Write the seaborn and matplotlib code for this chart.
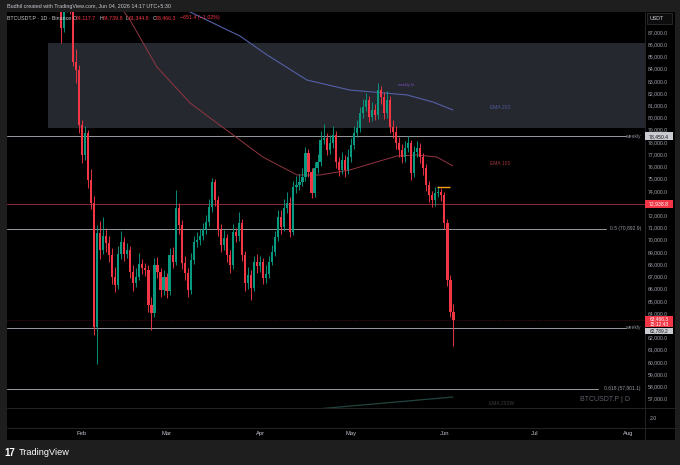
import numpy as np
import pandas as pd
import matplotlib
matplotlib.use("Agg")
import matplotlib.pyplot as plt
import matplotlib.transforms as mtransforms
from matplotlib.patches import Rectangle
from matplotlib.lines import Line2D
import seaborn as sns

# ---------------- data ----------------
dates = pd.date_range("2026-01-20", "2026-06-04", freq="D")

opens = [89500, 89800, 89300, 90100, 89600, 89200, 87300, 88900, 89500, 89000,
         84550, 83900, 79400, 76930, 78730, 74890, 73010, 62860, 70550, 69160,
         70310, 69740, 68750, 66950, 66300, 68830, 69820, 68830, 69160, 67360,
         66460, 66950, 68020, 67690, 67520, 64660, 64000, 67930, 67360, 65890,
         66950, 65810, 68750, 68180, 72600, 71210, 68100, 67280, 65890, 68340,
         69820, 69980, 70310, 70880, 71450, 72680, 74730, 73250, 70800, 69570,
         70150, 68750, 67930, 70640, 70310, 71370, 68750, 66460, 67120, 66050,
         68180, 67850, 68180, 66870, 67200, 68180, 69000, 70230, 71860, 71040,
         72600, 73010, 70640, 74320, 74480, 74730, 75130, 77100, 75540, 73830,
         75870, 76360, 78160, 78330, 77340, 77920, 78570, 76360, 75710, 76530,
         75710, 76770, 77750, 78740, 79140, 80370, 80860, 81440, 80040, 80620,
         80210, 82250, 81680, 80370, 81440, 79230, 78820, 77920, 77340, 76770,
         77510, 77920, 75460, 77180, 77510, 76770, 75870, 74480, 73660, 73250,
         73830, 73910, 73660, 71370, 66710, 64117.7]
closes = [89800, 89300, 90100, 89600, 89200, 87300, 88900, 89500, 89000, 84550,
          83900, 79400, 76930, 78730, 74890, 73010, 62860, 70550, 69160, 70310,
          69740, 68750, 66950, 66300, 68830, 69820, 68830, 69160, 67360, 66460,
          66950, 68020, 67690, 67520, 64660, 64000, 67930, 67360, 65890, 66950,
          65810, 68750, 68180, 72600, 71210, 68100, 67280, 65890, 68340, 69820,
          69980, 70310, 70880, 71450, 72680, 74730, 73250, 70800, 69570, 70150,
          68750, 67930, 70640, 70310, 71370, 68750, 66460, 67120, 66050, 68180,
          67850, 68180, 66870, 67200, 68180, 69000, 70230, 71860, 71040, 72600,
          73010, 70640, 74320, 74480, 74730, 75130, 77100, 75540, 73830, 75870,
          76360, 78160, 78330, 77340, 77920, 78570, 76360, 75710, 76530, 75710,
          76770, 77750, 78740, 79140, 80370, 80860, 81440, 80040, 80620, 80210,
          82250, 81680, 80370, 81440, 79230, 78820, 77920, 77340, 76770, 77510,
          77920, 75460, 77180, 77510, 76770, 75870, 74480, 73660, 73250, 73830,
          73910, 73660, 71370, 66710, 64117.7, 63466.3]
highs = [90300, 90200, 90600, 90400, 89900, 89500, 89300, 90000, 89800, 89200,
         85600, 84300, 79800, 79300, 79000, 75800, 73600, 71200, 71500, 71900,
         70900, 70300, 69300, 67800, 69500, 70700, 70200, 69700, 69500, 67900,
         67700, 68900, 68400, 68100, 67900, 65300, 68500, 68600, 67700, 67500,
         67300, 69300, 69400, 74100, 73000, 71600, 68700, 67700, 68900, 70300,
         70600, 70900, 71400, 72000, 73300, 75050, 75000, 73600, 71300, 70800,
         70500, 69200, 71300, 71000, 72300, 71700, 69100, 67800, 67500, 68700,
         68800, 68700, 68500, 67900, 68700, 69600, 70700, 72400, 72400, 73300,
         73900, 73500, 74800, 75200, 75400, 75900, 77600, 77400, 75900, 76400,
         77000, 78900, 79500, 78700, 78600, 79300, 78900, 76800, 77200, 76900,
         77400, 78300, 79300, 79800, 80900, 81500, 82000, 81800, 81300, 81100,
         82800, 82600, 82100, 82200, 81800, 79800, 79300, 78400, 77800, 78100,
         78500, 78200, 77700, 78100, 77900, 77100, 76200, 74800, 74000, 74300,
         74400, 74200, 73900, 71700, 67100, 64739.8]
lows = [89100, 88900, 89000, 89200, 88700, 86100, 87000, 88600, 88500, 84200,
        82800, 78700, 76300, 76500, 74200, 72500, 62200, 59830, 68400, 68800,
        69000, 68200, 66400, 65700, 66000, 68400, 68300, 68500, 66900, 65800,
        66100, 66700, 67200, 67000, 64100, 62600, 63700, 66900, 65300, 65500,
        65200, 65500, 67700, 67900, 70500, 67600, 66700, 65300, 65600, 68000,
        69400, 69600, 70000, 70500, 71100, 72300, 72800, 70300, 69000, 69200,
        68200, 67300, 67600, 69800, 69900, 68300, 65800, 66000, 65070, 65800,
        67300, 67400, 66400, 66500, 66900, 67900, 68700, 69900, 70500, 70700,
        72200, 70200, 70400, 73800, 74100, 74400, 74800, 75100, 73400, 73500,
        75500, 76000, 77800, 76900, 77000, 77500, 75900, 75200, 75400, 75100,
        75400, 76400, 77400, 78400, 78800, 80000, 80500, 79600, 79700, 79800,
        79900, 81100, 79900, 80000, 78700, 78300, 77400, 76800, 76300, 76400,
        77200, 74900, 75100, 76800, 76300, 75300, 74000, 73100, 72700, 72800,
        73500, 73200, 70900, 66200, 63700, 61344.8]

# moving averages (day offset from Feb 1, price)
ema200_day = [30.0, 35.8, 52.3, 61.3, 74.5, 88.7, 96.4, 107.6, 116.2, 122.8]
ema200_val = [89500, 88640, 86670, 85120, 83070, 82250, 82090, 81850, 81270, 80620]
ema100_day = [12.0, 15.9, 24.8, 35.8, 44.7, 52.3, 59.9, 71.2, 78.8, 88.7, 96.4, 104.3, 110.9, 117.5, 122.8]
ema100_val = [89300, 87980, 84140, 81190, 79550, 78160, 76770, 75300, 75300, 75710, 76280, 76850, 76940, 76770, 76040]
ema200w_day = [77.8, 122.8]
ema200w_val = [56150, 57130]

zone_low, zone_high, zone_start_day = 79150, 86100, -11.3
weekly_hi_level = 78450.4
red_level = 72938.8
fib_05 = 70892.9
weekly_lo_level = 62789.2
fib_0618 = 57801.1
orange_level, orange_from, orange_to = 74316, 117.5, 121.9
last_price = 63466.3

price_ticks = list(range(57000, 88000, 1000))
hidden_ticks = [73000, 63000]   # covered by the price tags in the reference
month_ticks = ["2026-02-01", "2026-03-01", "2026-04-01", "2026-05-01", "2026-06-01", "2026-07-01", "2026-08-01"]
month_labels = ["Feb", "Mar", "Apr", "May", "Jun", "Jul", "Aug"]

# ---------------- style ----------------
OUTER = "#1e1e1e"
BG = "#000000"
UP, DOWN = "#089981", "#f23645"
AXTXT = "#a3a6af"
SEP = "#2a2a2a"

sns.set_theme(style="dark", rc={"axes.facecolor": BG, "figure.facecolor": OUTER,
                                "axes.edgecolor": BG, "axes.grid": False})
plt.rcParams["font.family"] = ["Liberation Sans", "DejaVu Sans"]

W, H = 680, 465
def fx(x): return x / W
def fy(y): return 1 - y / H

fig = plt.figure(figsize=(6.8, 4.65), dpi=100, facecolor=OUTER)
fig.patches.append(Rectangle((fx(7), fy(440)), fx(675) - fx(7), fy(12) - fy(440),
                             transform=fig.transFigure, facecolor=BG, edgecolor="none", zorder=-10))

L, R = 7, 645
ax = fig.add_axes([fx(L), fy(408), fx(R) - fx(L), fy(12) - fy(408)])
ax2 = fig.add_axes([fx(L), fy(428), fx(R) - fx(L), fy(408) - fy(428)])
for a in (ax, ax2):
    a.set_facecolor(BG)
    for s in a.spines.values():
        s.set_visible(False)

feb1 = pd.Timestamp("2026-02-01")
xl = (feb1 + pd.Timedelta(days=-24.83), feb1 + pd.Timedelta(days=186.42))
ax.set_xlim(xl)
ax2.set_xlim(xl)
ax.set_ylim(56231, 88637)
ax2.set_ylim(0, 4)

# zone rectangle
ax.axhspan(zone_low, zone_high, xmin=(feb1 + pd.Timedelta(days=zone_start_day) - xl[0]) / (xl[1] - xl[0]),
           xmax=1, facecolor="#25282e", edgecolor="none", zorder=0.5)

# horizontal levels
ax.axhline(weekly_hi_level, xmin=0, xmax=0.970, color="#b2b5be", lw=0.7, alpha=0.85, zorder=1)
ax.axhline(red_level, color="#8c2b35", lw=0.7, zorder=1)
ax.axhline(fib_05, xmin=0, xmax=0.939, color="#b2b5be", lw=0.7, alpha=0.85, zorder=1)
ax.axhline(weekly_lo_level, xmin=0, xmax=0.970, color="#b2b5be", lw=0.7, alpha=0.85, zorder=1)
ax.axhline(fib_0618, xmin=0, xmax=0.926, color="#b2b5be", lw=0.7, alpha=0.85, zorder=1)
ax.axhline(last_price, color="#f23645", lw=0.5, alpha=0.45, ls=(0, (1, 1.5)), zorder=1)

# moving averages via seaborn
df200 = pd.DataFrame({"date": [feb1 + pd.Timedelta(days=d) for d in ema200_day], "v": ema200_val})
df100 = pd.DataFrame({"date": [feb1 + pd.Timedelta(days=d) for d in ema100_day], "v": ema100_val})
df200w = pd.DataFrame({"date": [feb1 + pd.Timedelta(days=d) for d in ema200w_day], "v": ema200w_val})
sns.lineplot(data=df200, x="date", y="v", ax=ax, color="#5460a8", lw=0.8, legend=False, zorder=2)
sns.lineplot(data=df100, x="date", y="v", ax=ax, color="#923641", lw=0.7, legend=False, zorder=2)
sns.lineplot(data=df200w, x="date", y="v", ax=ax, color="#22443f", lw=0.9, legend=False, zorder=2)

# candles
cols = [UP if c >= o else DOWN for o, c in zip(opens, closes)]
ax.vlines(dates, lows, highs, colors=cols, lw=0.65, zorder=3)
bottoms = [min(o, c) for o, c in zip(opens, closes)]
heights = [max(abs(c - o), 70) for o, c in zip(opens, closes)]
ax.bar(dates, heights, bottom=bottoms, width=0.72, color=cols, linewidth=0, zorder=4)

ax.hlines(orange_level, feb1 + pd.Timedelta(days=orange_from), feb1 + pd.Timedelta(days=orange_to),
          color="#f7a21b", lw=1.0, zorder=5)

ax.set_xlim(xl)
ax.set_ylim(56231, 88637)
ax.set_xlabel(""); ax.set_ylabel("")
ax.tick_params(axis="x", length=0, labelbottom=False)
ax.yaxis.tick_right()
ax.set_yticks(price_ticks)
ax.set_yticklabels(["" if v in hidden_ticks else f"{v:,.1f}" for v in price_ticks])
ax.tick_params(axis="y", length=0, pad=2.2, labelsize=3.7, labelcolor=AXTXT)

ax2.set_xticks(pd.to_datetime(month_ticks))
ax2.set_xticklabels(month_labels)
ax2.tick_params(axis="x", length=0, pad=2.0, labelsize=4.2, labelcolor="#c0c3cb")
ax2.yaxis.tick_right()
ax2.set_yticks([2])
ax2.set_yticklabels(["2.0"])
ax2.tick_params(axis="y", length=0, pad=3.5, labelsize=3.7, labelcolor=AXTXT)
ax2.set_xlabel(""); ax2.set_ylabel("")
ax2.set_xlim(xl)

# in-chart labels
blend = mtransforms.blended_transform_factory(fig.transFigure, ax.transData)
lab = dict(transform=blend, fontsize=3.6, va="center", zorder=6)
ax.text(fx(641), weekly_hi_level, "weekly", ha="right", color="#8a8d96", **lab)
ax.text(fx(641), fib_05, "0.5 (70,892.9)", ha="right", color="#9598a1", **lab)
ax.text(fx(641), weekly_lo_level, "weekly", ha="right", color="#8a8d96", **lab)
ax.text(fx(641), fib_0618, "0.618 (57,801.1)", ha="right", color="#9598a1", **lab)
ax.text(fx(630), 56950, "BTCUSDT.P | D", ha="right", color="#5d606b", transform=blend,
        fontsize=5.0, va="center", zorder=6)
ax.text(fx(490), 80860, "EMA 200", ha="left", color="#4f5a9c", **lab)
ax.text(fx(490), 76280, "EMA 100", ha="left", color="#a0333e", **lab)
ax.text(fx(398), 82700, "weekly hi", ha="left", color="#7c4fc0", transform=blend,
        fontsize=2.8, va="center", zorder=6)
ax.text(fx(489), 56600, "EMA 200W", ha="left", color="#3b3d42", **lab)

# price tags on the axis
ppx = (ax.get_ylim()[1] - ax.get_ylim()[0]) / 396.0
def tag(price, text, bg, fg, shift_px=0.0, h_px=8.0, fs=3.7):
    yc = price - shift_px * ppx
    fig.patches.append(Rectangle((fx(645), yc - h_px / 2 * ppx), fx(673) - fx(645), h_px * ppx,
                                 transform=blend, facecolor=bg, edgecolor="none", zorder=7))
    fig.text(fx(659), yc, text, transform=blend, ha="center", va="center", fontsize=fs,
             color=fg, zorder=8, linespacing=1.1)

tag(weekly_hi_level, "78,450.4", "#c9cbd1", "#131313")
tag(red_level, "72,938.8", "#f23645", "#ffffff")
tag(last_price, "63,466.3\n15:12:43", "#f23645", "#ffffff", shift_px=1.9, h_px=11.2, fs=3.5)
tag(weekly_lo_level, "62,789.2", "#c9cbd1", "#131313", shift_px=3.0, h_px=6.0, fs=3.4)

# separators
for y in (408, 428):
    fig.add_artist(Line2D([fx(7), fx(675)], [fy(y), fy(y)], color=SEP, lw=0.6, zorder=6))
fig.add_artist(Line2D([fx(645), fx(645)], [fy(12), fy(440)], color=SEP, lw=0.6, zorder=6))

# USDT box
fig.patches.append(Rectangle((fx(646.5), fy(24)), fx(672) - fx(646.5), fy(13.5) - fy(24),
                             transform=fig.transFigure, facecolor="#0c0c0c", edgecolor="#333333",
                             lw=0.5, zorder=7))
fig.text(fx(650), fy(18.7), "USDT", fontsize=3.8, color="#d1d4dc", va="center", zorder=8)

# header and legend
fig.text(fx(7), fy(6.3), "Budhil created with TradingView.com, Jun 04, 2026 14:17 UTC+5:30",
         fontsize=3.9, color="#c8cad0", va="center")
ly = fy(18)
fig.text(fx(7), ly, "BTCUSDT.P · 1D · Binance", fontsize=3.8, color="#c8cad0", va="center", zorder=8)
for lx, letter, vx, val in [(72.5, "O", 75.6, "64,117.7"), (99.2, "H", 102.3, "64,739.8"),
                            (126.0, "L", 128.6, "61,344.8"), (152.6, "C", 155.7, "63,466.3")]:
    fig.text(fx(lx), ly, letter, fontsize=3.8, color="#c8cad0", va="center", zorder=8)
    fig.text(fx(vx), ly, val, fontsize=3.8, color="#f23645", va="center", zorder=8)
fig.text(fx(180), ly, "−651.4 (−1.02%)", fontsize=3.8, color="#f23645", va="center", zorder=8)

# footer logo
fig.text(fx(4.5), fy(452.5), "17", fontsize=7.0, fontweight="heavy", color="#ffffff", va="center")
fig.text(fx(19), fy(452.5), "TradingView", fontsize=6.6, color="#ffffff", va="center")

fig.savefig("out.png", dpi=100, facecolor=OUTER)
